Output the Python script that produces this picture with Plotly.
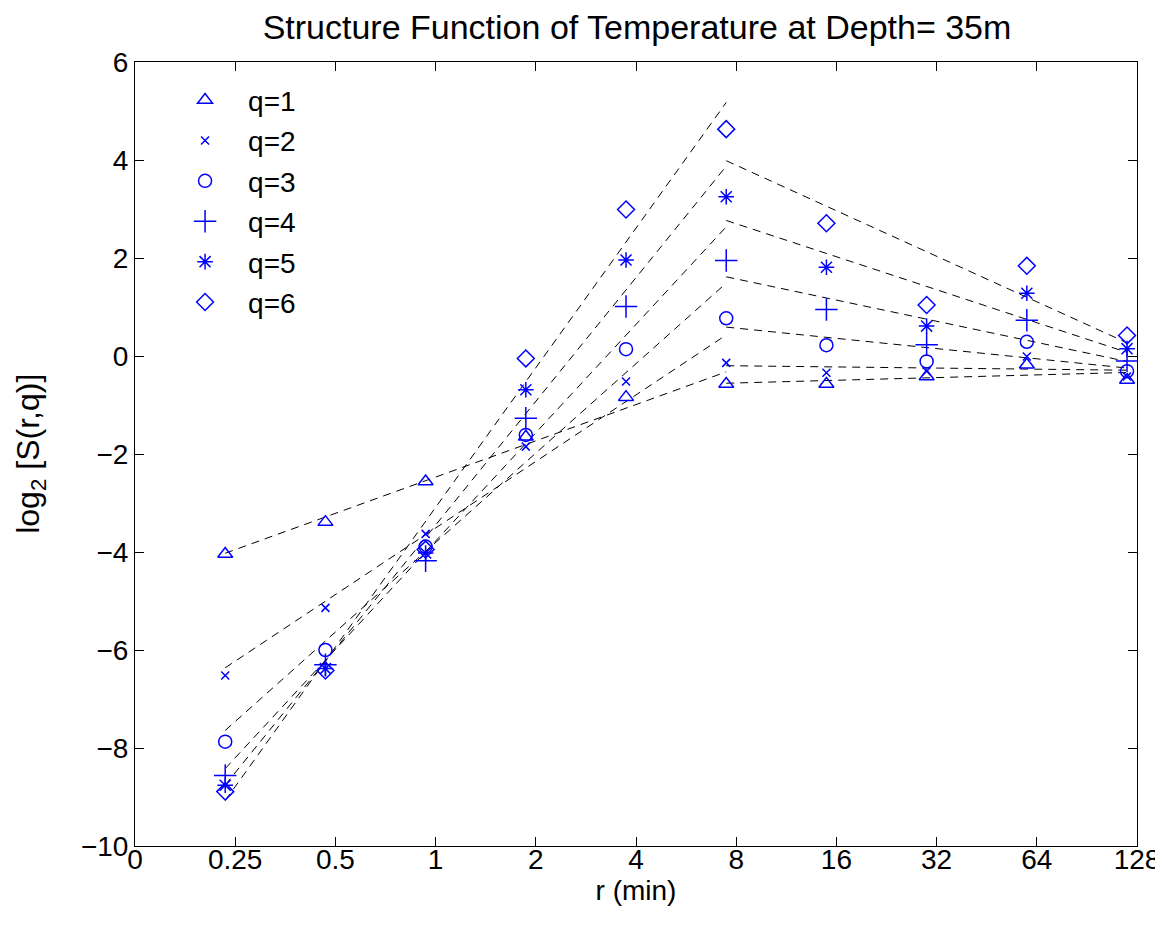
import numpy as np
import plotly.graph_objects as go

# lag r in minutes (sample spacing 14 s, doubled each scale)
r_min = [0.2333, 0.4667, 0.9333, 1.8667, 3.7333, 7.4667, 14.933, 29.867, 59.733, 119.47]

# log2 S(r,q), one list per moment order q
q1 = [-4.04, -3.39, -2.56, -1.65, -0.84, -0.57, -0.57, -0.42, -0.18, -0.49]
q2 = [-6.52, -5.14, -3.63, -1.85, -0.52, -0.14, -0.34, -0.31, -0.01, -0.42]
q3 = [-7.87, -6.00, -3.89, -1.61, 0.14, 0.77, 0.22, -0.11, 0.29, -0.31]
q4 = [-8.56, -6.30, -4.18, -1.27, 1.01, 1.95, 0.95, 0.23, 0.73, -0.10]
q5 = [-8.76, -6.38, -4.02, -0.69, 1.96, 3.25, 1.81, 0.61, 1.28, 0.15]
q6 = [-8.89, -6.42, -3.95, -0.05, 2.99, 4.63, 2.71, 1.04, 1.84, 0.42]

tick_vals = [0.125, 0.25, 0.5, 1, 2, 4, 8, 16, 32, 64, 128]
tick_text = ["0", "0.25", "0.5", "1", "2", "4", "8", "16", "32", "64", "128"]

series = [("q=1", q1, "triangle-up-open", 13),
          ("q=2", q2, "x-thin-open", 8),
          ("q=3", q3, "circle-open", 13),
          ("q=4", q4, "cross-thin-open", 16),
          ("q=5", q5, "asterisk-open", 13),
          ("q=6", q6, "diamond-open", 13)]

FONT = "Liberation Sans, Arial, sans-serif"
BLUE = "#0000ff"

fig = go.Figure()

lx = np.log2(r_min)
# least squares fits: small scales (first 6 lags) and large scales (last 5 lags)
for name, vals, sym, sz in series:
    y = np.array(vals)
    xs, ys = [], []
    for sl in (slice(0, 6), slice(5, 10)):
        p = np.polyfit(lx[sl], y[sl], 1)
        x0, x1 = lx[sl][0], lx[sl][-1]
        xs += [2 ** x0, 2 ** x1, None]
        ys += [np.polyval(p, x0), np.polyval(p, x1), None]
    fig.add_trace(go.Scatter(x=xs, y=ys, mode="lines", showlegend=False,
                             line=dict(color="black", width=1, dash="8px,6px"),
                             hoverinfo="skip"))

for name, vals, sym, sz in series:
    fig.add_trace(go.Scatter(x=r_min, y=vals, mode="markers", name=name, legendgroup=name,
                             marker=dict(symbol=sym, size=sz, color=BLUE,
                                         line=dict(color=BLUE, width=1.5))))

axis_common = dict(showline=True, linecolor="black", linewidth=1, mirror="ticks",
                   ticks="inside", ticklen=9, tickcolor="black", showgrid=False,
                   zeroline=False, automargin=False,
                   tickfont=dict(family=FONT, size=28, color="black"))

fig.update_xaxes(type="log", range=[np.log10(0.125), np.log10(128)],
                 tickvals=tick_vals, ticktext=tick_text, ticklabelstandoff=-12,
                 title=dict(text="r (min)", font=dict(family=FONT, size=28, color="black"), standoff=1),
                 **axis_common)
fig.update_yaxes(range=[-10, 6], tickvals=list(range(-10, 7, 2)),
                 ticktext=["\u221210", "\u22128", "\u22126", "\u22124", "\u22122", "0", "2", "4", "6"],
                 ticklabelstandoff=0,
                 **axis_common)

# y axis title placed by hand, like the original's ylabel
fig.add_annotation(text="log<sub>2</sub> [S(r,q)]", textangle=-90, showarrow=False,
                   xref="paper", yref="paper", x=-0.105, y=0.5,
                   xanchor="center", yanchor="middle",
                   font=dict(family=FONT, size=32, color="black"))

fig.update_layout(
    width=1155, height=905,
    paper_bgcolor="white", plot_bgcolor="white",
    margin=dict(l=127, r=26, t=54, b=67),
    title=dict(text="Structure Function of Temperature at Depth= 35m", x=0.5446, xanchor="center",
               y=1 - 19 / 905, yanchor="middle", font=dict(family=FONT, size=34, color="black")),
    legend=dict(x=0.027, y=0.983, xanchor="left", yanchor="top", bgcolor="rgba(0,0,0,0)",
                font=dict(family=FONT, size=28, color="black"), tracegroupgap=1,
                itemwidth=76),
    showlegend=True,
)

fig.write_html("out.html")
